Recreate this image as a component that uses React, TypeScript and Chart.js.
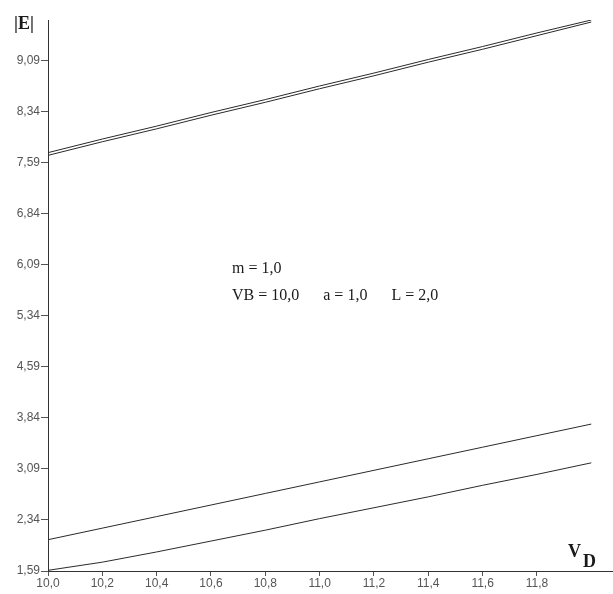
import React, { useEffect, useRef } from "react";
import { Chart, registerables } from "chart.js";

Chart.register(...registerables);

const xValues = [10.0, 10.2, 10.4, 10.6, 10.8, 11.0, 11.2, 11.4, 11.6, 11.8, 12.0];
const upper1 = [7.74, 7.94, 8.13, 8.33, 8.52, 8.72, 8.91, 9.11, 9.30, 9.50, 9.69];
const upper2 = [7.70, 7.90, 8.09, 8.29, 8.48, 8.68, 8.87, 9.07, 9.26, 9.46, 9.66];
const lowerA = [2.05, 2.22, 2.39, 2.56, 2.73, 2.90, 3.07, 3.24, 3.41, 3.58, 3.75];
const lowerB = [1.60, 1.72, 1.87, 2.03, 2.19, 2.36, 2.52, 2.68, 2.85, 3.01, 3.18];
const xTicks = [10.0, 10.2, 10.4, 10.6, 10.8, 11.0, 11.2, 11.4, 11.6, 11.8];
const yTicks = [1.59, 2.34, 3.09, 3.84, 4.59, 5.34, 6.09, 6.84, 7.59, 8.34, 9.09];
const annotationLine1 = "m = 1,0";
const annotationLine2 = "VB = 10,0      a = 1,0      L = 2,0";

const toPts = (ys: number[]) => ys.map((y, i) => ({ x: xValues[i], y }));

export default function App() {
  const ref = useRef<HTMLCanvasElement | null>(null);
  useEffect(() => {
    if (!ref.current) return;
    const lineColor = "#2a2a2a";
    const mk = (ys: number[]) => ({
      data: toPts(ys),
      borderColor: lineColor,
      borderWidth: 1,
      pointRadius: 0,
      tension: 0,
      fill: false,
    });
    const textPlugin = {
      id: "texts",
      afterDraw(chart: any) {
        const ctx = chart.ctx;
        ctx.save();
        ctx.fillStyle = "#1a1a1a";
        ctx.textBaseline = "alphabetic";
        ctx.font = "bold 18px 'Liberation Serif', serif";
        ctx.fillText("|E|", 14, 29);
        ctx.fillText("V", 568, 557);
        ctx.fillText("D", 583, 567);
        ctx.font = "16px 'Liberation Serif', serif";
        ctx.fillText(annotationLine1, 232, 273);
        ctx.fillText(annotationLine2, 232, 300);
        ctx.restore();
      },
    };
    const chart = new Chart(ref.current, {
      type: "line",
      data: {
        datasets: [mk(upper1), mk(upper2), mk(lowerA), mk(lowerB)],
      },
      options: {
        animation: false,
        responsive: false,
        maintainAspectRatio: false,
        layout: { padding: { top: 20, right: 0, left: 0, bottom: 0 } },
        plugins: { legend: { display: false }, tooltip: { enabled: false } },
        scales: {
          x: {
            type: "linear",
            min: 10.0,
            max: 12.08,
            afterBuildTicks: (s: any) => {
              s.ticks = xTicks.map((v) => ({ value: v }));
            },
            afterFit: (s: any) => {
              s.height = 23;
            },
            border: { color: "#333", width: 1 },
            grid: { drawOnChartArea: false, drawTicks: true, tickLength: 5, color: "#555" },
            ticks: {
              color: "#555",
              font: { family: "'Liberation Sans', Arial, sans-serif", size: 12 },
              padding: 0,
              maxRotation: 0,
              autoSkip: false,
              callback: (v: any) => Number(v).toFixed(1).replace(".", ","),
            },
          },
          y: {
            type: "linear",
            min: 1.59,
            max: 9.69,
            afterBuildTicks: (s: any) => {
              s.ticks = yTicks.map((v) => ({ value: v }));
            },
            afterFit: (s: any) => {
              s.width = 48;
            },
            border: { color: "#333", width: 1 },
            grid: { drawOnChartArea: false, drawTicks: true, tickLength: 7, color: "#555" },
            ticks: {
              color: "#555",
              font: { family: "'Liberation Sans', Arial, sans-serif", size: 12 },
              padding: 1,
              autoSkip: false,
              callback: (v: any) => Number(v).toFixed(2).replace(".", ","),
            },
          },
        },
      },
      plugins: [textPlugin],
    } as any);
    return () => chart.destroy();
  }, []);
  return (
    <div style={{ position: "fixed", left: 0, top: 0, width: 613, height: 594, background: "#fff" }}>
      <canvas ref={ref} width={613} height={594} style={{ width: 613, height: 594 }} />
    </div>
  );
}
